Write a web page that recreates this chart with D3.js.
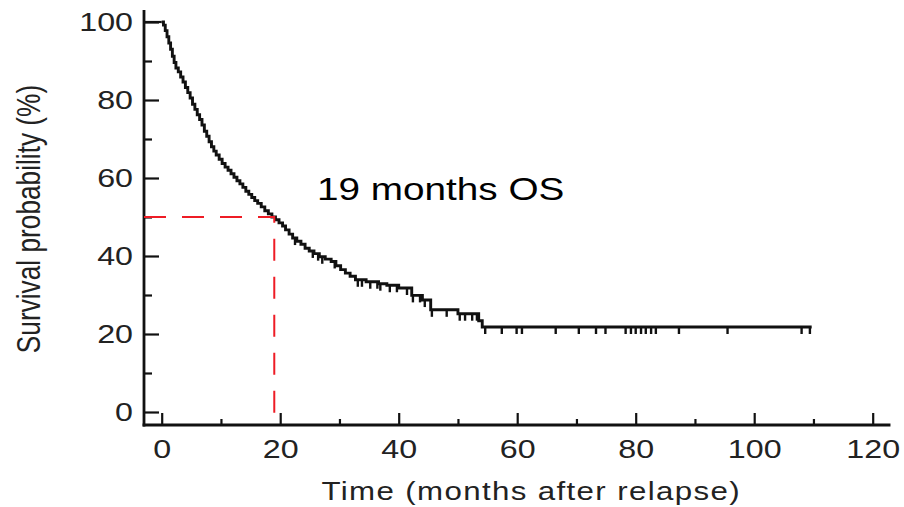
<!DOCTYPE html>
<html>
<head>
<meta charset="utf-8">
<script src="https://cdn.jsdelivr.net/npm/d3@7"></script>
<style>
  body { margin: 0; background: #fff; }
  text { font-family: "Liberation Sans", Arial, sans-serif; }
</style>
</head>
<body>
<svg id="chart" width="904" height="507"></svg>
<script>
// Kaplan–Meier overall survival after relapse
// months at which deaths occur, and survival (%) just after each one
const eventMonths = [0.3,0.6,0.9,1.2,1.5,1.8,2.1,2.4,2.8,3.2,3.6,4.0,4.4,4.8,5.2,5.6,6.0,6.4,6.8,
  7.2,7.6,8.0,8.4,8.8,9.2,9.7,10.2,10.7,11.2,11.7,12.2,12.7,13.2,13.7,14.2,14.7,15.2,15.7,16.2,
  16.8,17.4,18.0,18.6,19.2,19.8,20.4,20.9,21.5,22.1,22.8,23.5,24.2,24.9,25.7,26.6,27.6,28.6,29.4,
  30.2,31.0,31.8,32.7,34.5,36.6,38.0,40.0,42.2,44.0,45.4,50.0,53.5,54.1];
const survivalAfter = [99.2,97.8,96.2,94.6,93.0,91.2,89.6,88.2,87.2,85.9,84.6,83.2,81.9,80.5,78.9,77.6,76.2,75.0,73.6,
  72.0,70.7,69.3,68.0,66.9,65.9,64.8,63.7,62.8,62.0,61.1,60.2,59.3,58.5,57.6,56.6,55.8,55.0,54.2,53.5,
  52.6,51.6,50.8,50.0,49.3,48.5,47.7,46.7,45.6,44.6,43.8,43.0,42.0,41.3,40.6,39.8,39.2,38.6,37.5,
  36.5,35.6,34.8,33.9,33.4,32.9,32.5,31.8,29.9,28.7,26.2,25.2,23.4,21.8];
// censored follow-up times (months)
const censorMonths = [22.5,25.5,26.4,27.1,29.2,33.1,33.8,35.2,36.4,36.9,38.5,39.7,41.4,42.4,43.6,44.4,
  45.6,48.1,50.3,51.2,52.4,53.2,54.6,57.4,59.9,60.8,66.5,70.4,73.3,74.9,78.3,79.2,80.0,80.9,81.7,
  82.6,83.4,87.3,95.5,108.0,109.4];
const lastFollowUp = 109.7;

// median overall survival marker
const medianMonths = 19;
const medianSurvival = 50;

const xTickValues = [0,20,40,60,80,100,120];
const xMinorValues = [10,30,50,70,90,110];
const yTickValues = [0,20,40,60,80,100];
const yMinorValues = [10,30,50,70,90];
const xTitle = "Time (months after relapse)";
const yTitle = "Survival probability (%)";

const svg = d3.select("#chart");
const ink = "#111";

const x = d3.scaleLinear().domain([0, 120]).range([161.7, 872.7]);
const y = d3.scaleLinear().domain([0, 100]).range([412, 22]);
const axisX = 144;      // pixel position of the vertical axis
const axisY = 425;      // pixel position of the horizontal axis

// survival value at any time (step function lookup)
function survivalAt(t) {
  let s = 100;
  for (let i = 0; i < eventMonths.length; i++) {
    if (eventMonths[i] <= t) s = survivalAfter[i]; else break;
  }
  return s;
}

// ---- axes ----
const gx = svg.append("g").attr("transform", `translate(0,${axisY})`);
gx.call(d3.axisBottom(x).tickValues(xTickValues).tickSize(-12).tickPadding(15).tickFormat(d3.format("d")));
gx.append("g").call(d3.axisBottom(x).tickValues(xMinorValues).tickSize(-6).tickFormat(""));
gx.selectAll(".domain").remove();
gx.selectAll("line").attr("stroke", ink).attr("stroke-width", 2.2);
gx.selectAll("text")
  .attr("fill", "#222").attr("font-size", 26)
  .attr("transform", function() { return `translate(0,${d3.select(this).attr("y")}) scale(1.24,1)`; })
  .attr("y", 0);

const gy = svg.append("g").attr("transform", `translate(${axisX},0)`);
gy.call(d3.axisLeft(y).tickValues(yTickValues).tickSize(-15).tickPadding(11).tickFormat(d3.format("d")));
gy.append("g").call(d3.axisLeft(y).tickValues(yMinorValues).tickSize(-8).tickFormat(""));
gy.selectAll(".domain").remove();
gy.selectAll("line").attr("stroke", ink).attr("stroke-width", 2.2);
gy.selectAll("text")
  .attr("fill", "#222").attr("font-size", 26)
  .attr("transform", "translate(-11,0) scale(1.24,1)")
  .attr("x", 0);

// axis lines
svg.append("line").attr("x1", axisX).attr("x2", axisX).attr("y1", 10).attr("y2", axisY + 1.5)
  .attr("stroke", ink).attr("stroke-width", 2.8);
svg.append("line").attr("x1", axisX - 1.4).attr("x2", x(123)).attr("y1", axisY).attr("y2", axisY)
  .attr("stroke", ink).attr("stroke-width", 2.8);

// axis titles
svg.append("text")
  .attr("transform", `translate(${(x(0) + x(120)) / 2 + 14},500) scale(1.25,1)`)
  .attr("text-anchor", "middle").attr("font-size", 25).attr("letter-spacing", 1.1)
  .attr("fill", "#222").text(xTitle);
svg.append("text")
  .attr("transform", "translate(40,219) rotate(-90) scale(1.05,1.3)")
  .attr("text-anchor", "middle").attr("font-size", 25)
  .attr("fill", "#222").text(yTitle);

// ---- survival curve ----
const pts = [[0, 100]];
eventMonths.forEach((t, i) => pts.push([t, survivalAfter[i]]));
pts.push([lastFollowUp, survivalAfter[survivalAfter.length - 1]]);

const km = d3.line().x(d => x(d[0])).y(d => y(d[1])).curve(d3.curveStepAfter);
svg.append("path").datum(pts).attr("d", km)
  .attr("fill", "none").attr("stroke", ink).attr("stroke-width", 2.9).attr("stroke-linejoin", "miter");

// initial flat segment drawn along the top tick
svg.append("line").attr("x1", axisX).attr("x2", x(0)).attr("y1", y(100)).attr("y2", y(100))
  .attr("stroke", ink).attr("stroke-width", 2.2);

// censor marks hang below the curve
svg.append("g").selectAll("line").data(censorMonths).join("line")
  .attr("x1", d => x(d)).attr("x2", d => x(d))
  .attr("y1", d => y(survivalAt(d))).attr("y2", d => y(survivalAt(d)) + 7)
  .attr("stroke", ink).attr("stroke-width", 2.4);

// ---- median marker ----
svg.append("path")
  .attr("d", d3.line()([[axisX, y(medianSurvival)], [x(medianMonths), y(medianSurvival)], [x(medianMonths), axisY - 6]]))
  .attr("fill", "none").attr("stroke", "#ee1c25").attr("stroke-width", 2)
  .attr("stroke-dasharray", "22,16");

svg.append("text")
  .attr("transform", "translate(317,200) scale(1.21,1)")
  .attr("font-size", 32).attr("fill", "#000")
  .text(`${medianMonths} months OS`);
</script>
</body>
</html>
